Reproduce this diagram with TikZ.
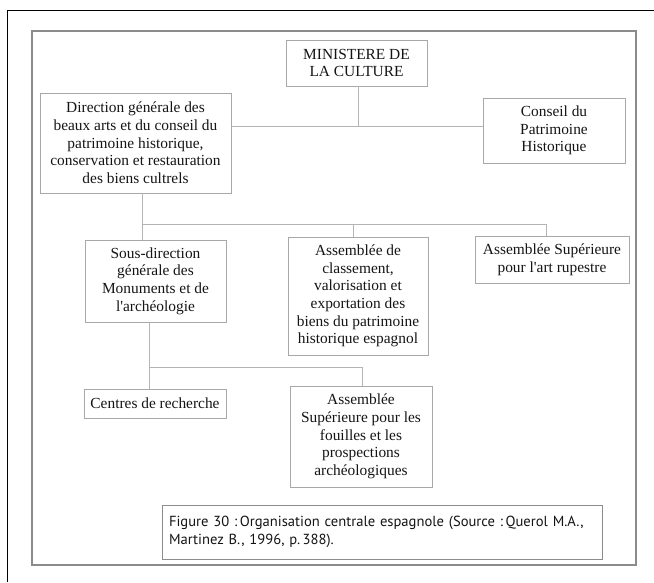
\documentclass[tikz,border=0pt]{standalone}
\usepackage{fontspec}
\setmainfont{Liberation Serif}
\newfontfamily\capfont{PT Sans}
\definecolor{boxgray}{HTML}{A8A8A8}
\definecolor{linkgray}{HTML}{B4B4B4}
\definecolor{framegray}{HTML}{8C8C8C}
\definecolor{txt}{HTML}{141414}
\begin{document}
\begin{tikzpicture}[x=1pt,y=-1pt,
  box/.style={draw=boxgray, line width=0.9pt, align=center, inner sep=0pt,
    font=\fontsize{15.4}{17.7}\selectfont, text=txt},
  link/.style={draw=linkgray, line width=1pt},
  capbox/.style={draw=framegray, line width=1pt, align=left, inner sep=0pt,
    text=txt, font=\capfont\fontsize{14.6}{17.5}\selectfont}]
\useasboundingbox (0,0) rectangle (654,582);
\draw[black, line width=1pt] (7,582) -- (7,10) -- (654,10);
\draw[framegray, line width=1.6pt] (32,31) rectangle (636,565);

\node[box, minimum width=141pt, minimum height=46pt] (min) at (356.5,63) {MINISTERE DE\\LA CULTURE};
\node[box, minimum width=191pt, minimum height=100pt] (dir) at (135.5,143) {Direction générale des\\beaux arts et du conseil du\\patrimoine historique,\\conservation et restauration\\des biens cultrels};
\node[box, minimum width=142pt, minimum height=65pt] (con) at (554,130.5) {Conseil du\\Patrimoine\\Historique};
\node[box, minimum width=141pt, minimum height=82pt] (sous) at (155.5,281) {Sous-direction\\générale des\\Monuments et de\\l\textquotesingle archéologie};
\node[box, minimum width=140pt, minimum height=118pt] (cla) at (358,296) {Assemblée de\\classement,\\valorisation et\\exportation des\\biens du patrimoine\\historique espagnol};
\node[box, minimum width=154pt, minimum height=47pt] (rup) at (552,259.5) {Assemblée Supérieure\\pour l\textquotesingle art rupestre};
\node[box, minimum width=142pt, minimum height=29pt] (cen) at (155,403.5) {Centres de recherche};
\node[box, minimum width=142pt, minimum height=101pt] (fou) at (361,436.5) {Assemblée\\Supérieure pour les\\fouilles et les\\prospections\\archéologiques};
\node[capbox, minimum width=440pt, minimum height=54pt, text width=426pt] (cap) at (382,532) {\mbox{Figure 30 :\,Organisation centrale espagnole (Source :\,Querol M.A.,}\\\mbox{Martinez B., 1996, p.\,388).}};

\coordinate (j1) at (358,126);
\coordinate (j2) at (142,224);
\coordinate (j3) at (149,367);
\coordinate (r) at (546,224);
\coordinate (c) at (353,224);
\coordinate (f) at (362,367);
\draw[link] (min.south -| j1) -- (j1);
\draw[link] (dir.east |- j1) -- (con.west |- j1);
\draw[link] (dir.south -| j2) -- (j2) -- (r) -- (rup.north -| r);
\draw[link] (j2) -- (sous.north -| j2);
\draw[link] (c) -- (cla.north -| c);
\draw[link] (sous.south -| j3) -- (cen.north -| j3);
\draw[link] (j3) -- (f) -- (fou.north -| f);
\end{tikzpicture}
\end{document}
